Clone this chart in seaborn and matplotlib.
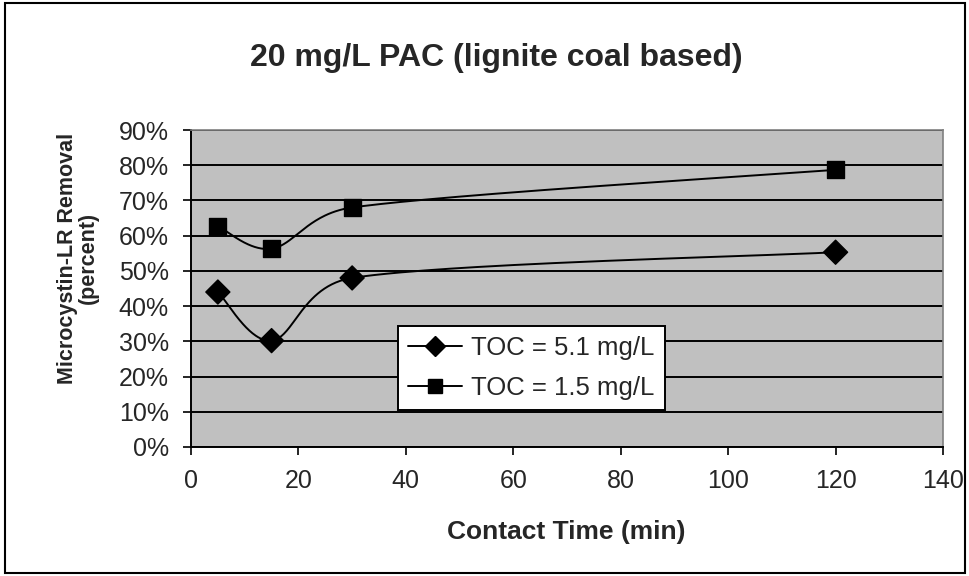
import numpy as np
import pandas as pd
import matplotlib
matplotlib.use("Agg")
import matplotlib.pyplot as plt
import seaborn as sns
from matplotlib.lines import Line2D
from matplotlib.patches import Rectangle

# ---- data ----
contact_time = [5, 15, 30, 120]
toc_51 = [0.44, 0.302, 0.48, 0.553]
toc_15 = [0.627, 0.563, 0.68, 0.787]
series_names = ["TOC = 5.1 mg/L", "TOC = 1.5 mg/L"]
x_ticks = [0, 20, 40, 60, 80, 100, 120, 140]
y_ticks = [0, 0.1, 0.2, 0.3, 0.4, 0.5, 0.6, 0.7, 0.8, 0.9]

sns.set_theme(style="white")
plt.rcParams['font.family'] = ['Liberation Sans', 'DejaVu Sans']

W, H = 970, 576
L, R, T, B = 191, 943, 130, 447
fig = plt.figure(figsize=(W/100, H/100), dpi=100)
ax = fig.add_axes([L/W, 1 - B/H, (R-L)/W, (B-T)/H])
ax.set_facecolor("#c0c0c0")
ax.set_xlim(0, 140)
ax.set_ylim(0, 0.9)

def excel_smooth(xs, ys, n=60):
    # Excel-style Bezier smoothing computed in pixel space
    sx = (R-L)/140.0; sy = (B-T)/0.9
    P = np.column_stack([np.array(xs)*sx, np.array(ys)*sy])
    out = [P[0]]
    for i in range(len(P)-1):
        p0 = P[i-1] if i > 0 else P[i]
        p1 = P[i]; p2 = P[i+1]
        p3 = P[i+2] if i+2 < len(P) else P[i+1]
        d12 = np.linalg.norm(p2 - p1)
        d02 = np.linalg.norm(p2 - p0)
        d13 = np.linalg.norm(p3 - p1)
        f1 = 1/6.0 if d02/6.0 < d12/2.0 else (d12/(2*d02) if d02 > 0 else 0)
        f2 = 1/6.0 if d13/6.0 < d12/2.0 else (d12/(2*d13) if d13 > 0 else 0)
        c1 = p1 + (p2 - p0)*f1
        c2 = p2 - (p3 - p1)*f2
        t = np.linspace(0, 1, n)[1:, None]
        Bz = (1-t)**3*p1 + 3*(1-t)**2*t*c1 + 3*(1-t)*t**2*c2 + t**3*p2
        out.extend(Bz)
    out = np.array(out)
    return out[:, 0]/sx, out[:, 1]/sy

df = pd.DataFrame({"x": contact_time*2, "y": toc_51 + toc_15,
                   "series": [series_names[0]]*4 + [series_names[1]]*4})

for vals in (toc_51, toc_15):
    sx_, sy_ = excel_smooth(contact_time, vals)
    ax.plot(sx_, sy_, color="black", lw=1.4, zorder=3)
sns.scatterplot(data=df, x="x", y="y", style="series",
                markers={series_names[0]: "D", series_names[1]: "s"},
                color="black", s=150, edgecolor="black", legend=False, ax=ax, zorder=4)

ax.set_xticks(x_ticks)
ax.set_yticks(y_ticks)
ax.set_xticklabels([str(v) for v in x_ticks], fontsize=18)
ax.set_yticklabels([f"{int(round(v*100))}%" for v in y_ticks], fontsize=18)
ax.set_xlabel("")
ax.set_ylabel("")
ax.yaxis.grid(True, color="black", lw=1.4)
ax.xaxis.grid(False)
ax.set_axisbelow(True)
for s in ["top", "right"]:
    ax.spines[s].set_color("#808080")
    ax.spines[s].set_linewidth(1.2)
for s in ["left", "bottom"]:
    ax.spines[s].set_color("black")
    ax.spines[s].set_linewidth(1.4)
ax.tick_params(axis="both", direction="out", length=6, width=1.2, color="black",
               bottom=True, left=True)
ax.tick_params(axis="x", pad=10)
ax.tick_params(axis="y", pad=10)

fig.text(566/W, 1 - 532/H, "Contact Time (min)", ha="center", va="center",
         fontsize=19, fontweight="bold")
fig.text(78/W, 1 - 258/H, "Microcystin-LR Removal\n(percent)", ha="center", va="center",
         rotation=90, fontsize=15.5, fontweight="bold", linespacing=0.95, multialignment="center")
fig.text(496/W, 1 - 58/H, "20 mg/L PAC (lignite coal based)", ha="center", va="center",
         fontsize=23, fontweight="bold")

handles = [Line2D([0], [0], color="black", lw=1.4, marker="D", markersize=10),
           Line2D([0], [0], color="black", lw=1.4, marker="s", markersize=10)]
leg = ax.legend(handles, series_names, loc="lower left",
                bbox_to_anchor=((398-L)/(R-L), (B-410)/(B-T)),
                frameon=True, fancybox=False, fontsize=18.5, handlelength=2.1,
                borderpad=0.4, labelspacing=0.6, handletextpad=0.35, borderaxespad=0)
leg.get_frame().set_edgecolor("black")
leg.get_frame().set_linewidth(1.4)
leg.get_frame().set_facecolor("white")
leg.get_frame().set_alpha(1)

fig.patches.append(Rectangle((5/W, 3/H), 960/W, 570/H, transform=fig.transFigure,
                             fill=False, edgecolor="black", lw=1.5))

fig.savefig("out.png", dpi=100, facecolor="white")
